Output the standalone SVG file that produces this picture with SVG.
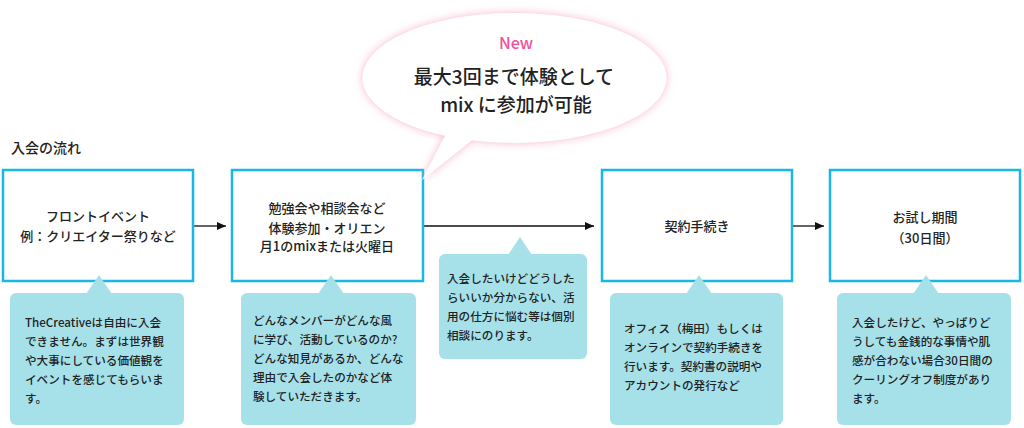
<svg xmlns="http://www.w3.org/2000/svg" width="1024" height="428" viewBox="0 0 1024 428">
<defs>
<style>
.box{fill:#fff;stroke:#18b8e6;stroke-width:2.5}
.call{fill:#a6e1ea}
.t{font-family:"Noto Sans CJK JP","Noto Sans",sans-serif;fill:#222;font-weight:500}
.bt{font-size:13px;text-anchor:middle}
.ct{font-size:11.6px}
.conn{stroke:#111;stroke-width:1.3;fill:none}
</style>
<marker id="ah" markerWidth="10" markerHeight="8" refX="9" refY="4" orient="auto" markerUnits="userSpaceOnUse">
<path d="M0,0 L9,4 L0,8 Z" fill="#111"/>
</marker>
<filter id="glow" x="-20%" y="-30%" width="140%" height="160%">
<feDropShadow dx="0" dy="0" stdDeviation="4" flood-color="#f7a8cb" flood-opacity="0.85"/>
</filter>
</defs>
<rect width="1024" height="428" fill="#fff"/>
<text class="t" x="11" y="153" font-size="14" font-weight="700">入会の流れ</text>

<g id="connectors">
<line class="conn" x1="194" y1="226" x2="226" y2="226" marker-end="url(#ah)"/>
<line class="conn" x1="424" y1="226" x2="594" y2="226" marker-end="url(#ah)"/>
<line class="conn" x1="793" y1="226" x2="824" y2="226" marker-end="url(#ah)"/>
</g>

<g id="node1">
<rect class="box" x="3" y="170" width="190" height="111"/>
<text class="t bt" x="98" y="221">フロントイベント</text>
<text class="t bt" x="98" y="241">例：クリエイター祭りなど</text>
</g>
<g id="node2">
<rect class="box" x="232" y="170" width="191" height="111"/>
<text class="t bt" x="327" y="213">勉強会や相談会など</text>
<text class="t bt" x="327" y="233">体験参加・オリエン</text>
<text class="t bt" x="327" y="251" font-size="11">月1のmixまたは火曜日</text>
</g>
<g id="node3">
<rect class="box" x="602" y="170" width="190" height="111"/>
<text class="t bt" x="697" y="231">契約手続き</text>
</g>
<g id="node4">
<rect class="box" x="830" y="170" width="190" height="111"/>
<text class="t bt" x="925" y="222">お試し期間</text>
<text class="t bt" x="925" y="243">（30日間）</text>
</g>

<g id="callout1">
<rect class="call" x="10" y="293" width="174" height="132" rx="6"/>
<polygon class="call" points="99,275 86,294 112,294"/>
<text class="t ct" x="25" y="327">TheCreativeは自由に入会</text>
<text class="t ct" x="25" y="346">できません。まずは世界観</text>
<text class="t ct" x="25" y="365">や大事にしている価値観を</text>
<text class="t ct" x="25" y="384">イベントを感じてもらいま</text>
<text class="t ct" x="25" y="403">す。</text>
</g>
<g id="callout2">
<rect class="call" x="241" y="293" width="175" height="132" rx="6"/>
<polygon class="call" points="331,275 318,294 344,294"/>
<text class="t ct" x="253" y="325">どんなメンバーがどんな風</text>
<text class="t ct" x="253" y="344">に学び、活動しているのか?</text>
<text class="t ct" x="253" y="363">どんな知見があるか、どんな</text>
<text class="t ct" x="253" y="382">理由で入会したのかなど体</text>
<text class="t ct" x="253" y="401">験していただきます。</text>
</g>
<g id="callout3">
<rect class="call" x="439" y="254" width="148" height="105" rx="6"/>
<polygon class="call" points="520,237 508,255 532,255"/>
<text class="t ct" x="447" y="283">入会したいけどどうした</text>
<text class="t ct" x="447" y="302">らいいか分からない、活</text>
<text class="t ct" x="447" y="321">用の仕方に悩む等は個別</text>
<text class="t ct" x="447" y="340">相談にのります。</text>
</g>
<g id="callout4">
<rect class="call" x="610" y="293" width="173" height="132" rx="6"/>
<polygon class="call" points="699,275 686,294 712,294"/>
<text class="t ct" x="624" y="333">オフィス（梅田）もしくは</text>
<text class="t ct" x="624" y="352">オンラインで契約手続きを</text>
<text class="t ct" x="624" y="371">行います。契約書の説明や</text>
<text class="t ct" x="624" y="390">アカウントの発行など</text>
</g>
<g id="callout5">
<rect class="call" x="837" y="293" width="174" height="132" rx="6"/>
<polygon class="call" points="926,275 913,294 939,294"/>
<text class="t ct" x="852" y="327">入会したけど、やっぱりど</text>
<text class="t ct" x="852" y="346">うしても金銭的な事情や肌</text>
<text class="t ct" x="852" y="365">感が合わない場合30日間の</text>
<text class="t ct" x="852" y="384">クーリングオフ制度があり</text>
<text class="t ct" x="852" y="403">ます。</text>
</g>

<g id="bubble">
<path filter="url(#glow)" fill="#fff" d="M445,135.7 A152,65 0 1 1 472,140.3 L422,180 Z"/>
<text class="t" x="516" y="49" font-size="16" font-weight="700" style="fill:#f0509a" text-anchor="middle">New</text>
<text class="t" x="514" y="84" font-size="19" text-anchor="middle">最大3回まで体験として</text>
<text class="t" x="516" y="112" font-size="19" text-anchor="middle">mix に参加が可能</text>
</g>
</svg>
